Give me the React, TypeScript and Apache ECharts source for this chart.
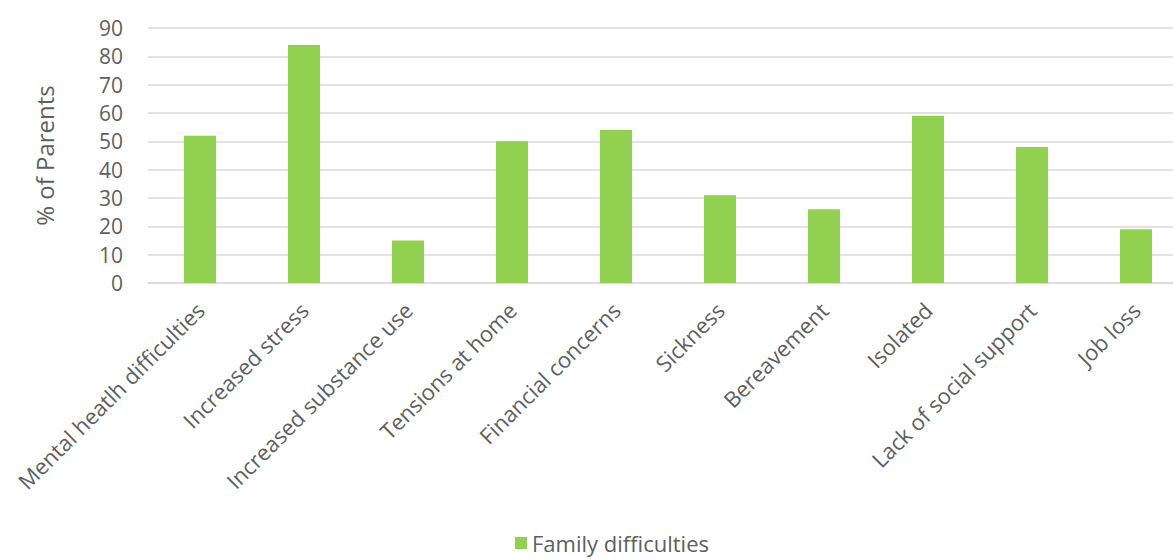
import React, { useEffect, useRef } from "react";
import * as echarts from "echarts";

const categories = [
  "Mental heatlh difficulties",
  "Increased stress",
  "Increased substance use",
  "Tensions at home",
  "Financial concerns",
  "Sickness",
  "Bereavement",
  "Isolated",
  "Lack of social support",
  "Job loss",
];
const values = [52, 84, 15, 50, 54, 31, 26, 59, 48, 19];
const seriesName = "Family difficulties";
const yAxisName = "% of Parents";

export default function App() {
  const ref = useRef<HTMLDivElement>(null);
  useEffect(() => {
    if (!ref.current) return;
    const chart = echarts.init(ref.current, null, { renderer: "svg" });
    const font = "'Open Sans', 'Noto Sans', sans-serif";
    chart.setOption({
      animation: false,
      textStyle: { fontFamily: font },
      grid: { left: 148, right: 0, top: 28, bottom: 276, containLabel: false },
      legend: {
        bottom: 0,
        left: 510,
        itemWidth: 12,
        itemHeight: 12,
        itemGap: 6,
        icon: "rect",
        textStyle: { color: "#5F5F5F", fontSize: 22, fontFamily: font },
        data: [seriesName],
      },
      xAxis: {
        type: "category",
        data: categories,
        axisTick: { show: false },
        axisLine: { lineStyle: { color: "#D9D9D9", width: 1.5 } },
        axisLabel: {
          rotate: 45,
          color: "#5F5F5F",
          fontSize: 22,
          margin: 23,
          interval: 0,
          fontFamily: font,
        },
      },
      yAxis: {
        type: "value",
        min: 0,
        max: 90,
        interval: 10,
        name: yAxisName,
        nameLocation: "middle",
        nameGap: 92,
        nameTextStyle: { color: "#5F5F5F", fontSize: 24, fontFamily: font },
        axisLine: { show: false },
        axisTick: { show: false },
        splitLine: { lineStyle: { color: "#D9D9D9", width: 1.5 } },
        axisLabel: { color: "#5F5F5F", fontSize: 21, margin: 25, fontFamily: font },
      },
      series: [
        {
          name: seriesName,
          type: "bar",
          data: values,
          barWidth: 32,
          itemStyle: { color: "#92D050" },
        },
      ],
    });
    return () => chart.dispose();
  }, []);
  return (
    <div
      style={{
        position: "fixed",
        left: 0,
        top: 0,
        width: 1173,
        height: 559,
        overflow: "hidden",
        background: "#fff",
      }}
    >
      <div ref={ref} style={{ width: 1188, height: 559 }} />
    </div>
  );
}
